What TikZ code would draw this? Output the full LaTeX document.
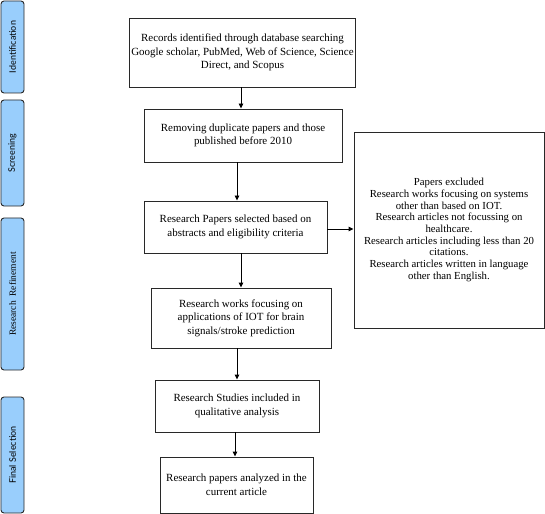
\documentclass[tikz,border=0pt]{standalone}
\usepackage{fontspec}
\setmainfont{Liberation Serif}
\newfontfamily\sidesans{Lato}
\usetikzlibrary{arrows.meta}
\definecolor{sideblue}{RGB}{153,206,252}
\definecolor{edgegray}{RGB}{40,40,40}
\begin{document}
\begin{tikzpicture}[x=1bp,y=-1bp,
  box/.style={draw=edgegray,line width=0.9bp,fill=white,align=center,inner sep=2bp,font=\fontsize{11}{13.6}\selectfont},
  sidebar/.style={draw=edgegray,line width=0.9bp,fill=sideblue,rounded corners=3bp,minimum width=23bp,inner sep=0pt},
  sidelabel/.style={rotate=90,font=\fontsize{9}{11}\selectfont},
  flow/.style={-{Triangle[length=5bp,width=4.5bp]},draw=black,line width=0.9bp}]
\useasboundingbox (0,0) rectangle (545,514);
% side bars
\node[sidebar,minimum height=92bp] (s1) at (12.5,47) {};
\node[sidelabel] (t1) at (s1) {\sidesans Identification};
\node[sidebar,minimum height=106bp] (s2) at (12.5,153) {};
\node[sidelabel] (t2) at (s2) {\sidesans Screening};
\node[sidebar,minimum height=152bp] (s3) at (12.5,294) {};
\node[sidelabel,font=\fontsize{9.5}{11}\selectfont] (t3) at (s3) {Research\enspace Refinement};
\node[sidebar,minimum height=116bp] (s4) at (12.5,455) {};
\node[sidelabel] (t4) at (s4) {\sidesans Final Selection};
% flow boxes
\node[box,minimum width=223bp,minimum height=69bp] (b1) at (242.5,52.5)
  {Records identified through database searching\\Google scholar, PubMed, Web of Science, Science\\Direct, and Scopus};
\node[box,minimum width=198bp,minimum height=53bp] (b2) at (243,135.5)
  {Removing duplicate papers and those\\published before 2010};
\node[box,minimum width=183bp,minimum height=52bp] (b3) at (235.5,227)
  {Research Papers selected based on\\abstracts and eligibility criteria};
\node[box,minimum width=180bp,minimum height=60bp] (b4) at (241,318)
  {Research works focusing on\\applications of IOT for brain\\signals/stroke prediction};
\node[box,minimum width=164bp,minimum height=52bp] (b5) at (237,406)
  {Research Studies included in\\qualitative analysis};
\node[box,minimum width=153bp,minimum height=56bp] (b6) at (236.5,485)
  {Research papers analyzed in the\\current article};
\node[box,minimum width=190bp,minimum height=196bp,font=\fontsize{10.8}{11.7}\selectfont] (ex) at (449,230)
  {Papers excluded\\Research works focusing on systems\\other than based on IOT.\\Research articles not focussing on\\healthcare.\\Research articles including less than 20\\citations.\\Research articles written in language\\other than English.};
% arrow columns
\coordinate (c1) at (241,0);
\coordinate (c2) at (237,0);
\coordinate (c3) at (241,0);
\coordinate (c4) at (237,0);
\coordinate (c5) at (235,0);
\coordinate (r1) at (0,229);
\draw[flow] (b1.south -| c1) -- (b2.north -| c1);
\draw[flow] (b2.south -| c2) -- (b3.north -| c2);
\draw[flow] (b3.south -| c3) -- (b4.north -| c3);
\draw[flow] (b4.south -| c4) -- (b5.north -| c4);
\draw[flow] (b5.south -| c5) -- (b6.north -| c5);
\draw[flow] (b3.east |- r1) -- (ex.west |- r1);
\end{tikzpicture}
\end{document}
